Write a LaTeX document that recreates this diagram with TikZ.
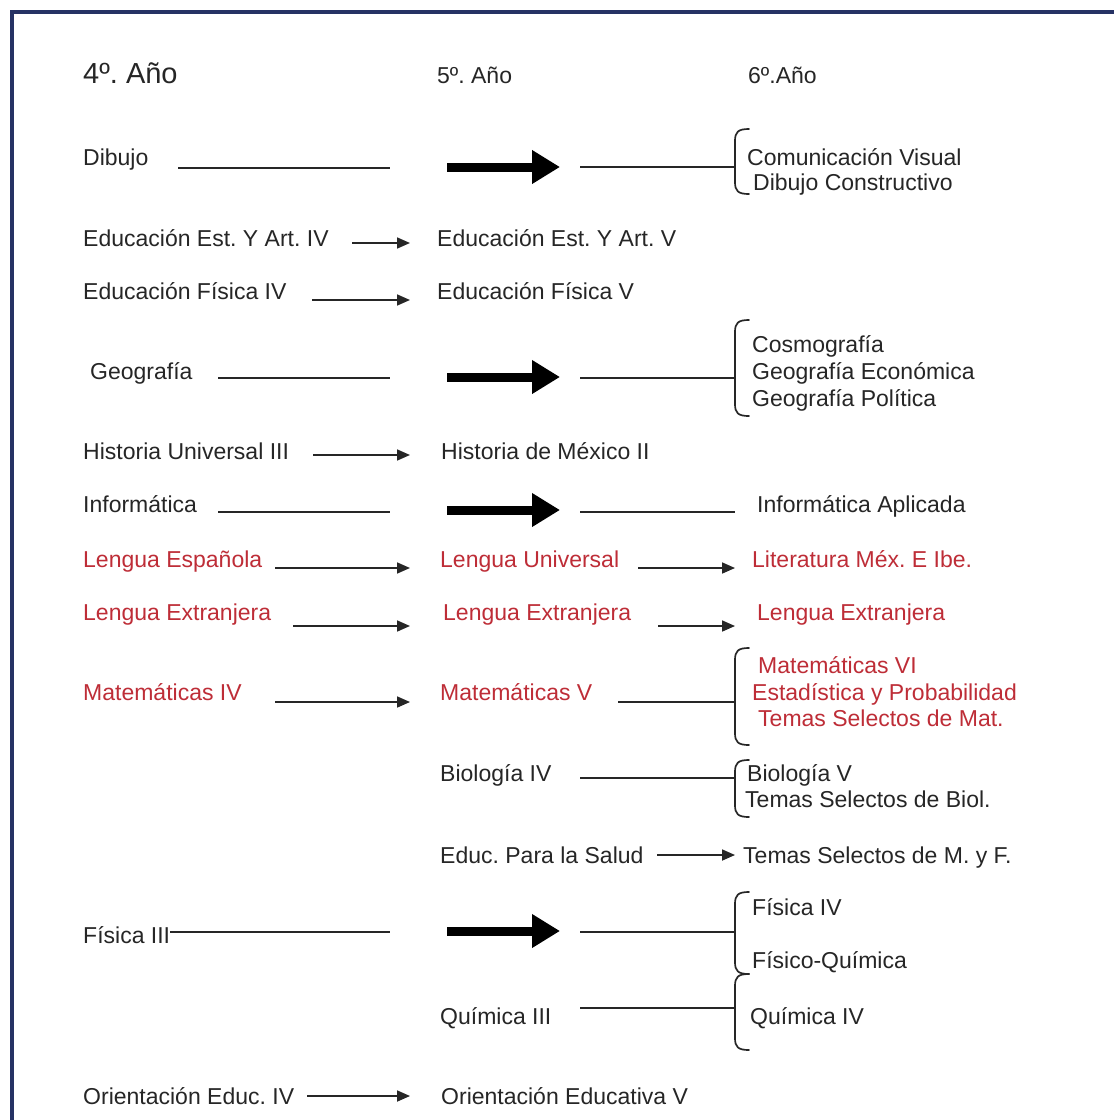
\documentclass[tikz,border=0pt]{standalone}
\usepackage{fontspec}
\setmainfont{Liberation Sans}
\usetikzlibrary{arrows.meta}
\definecolor{navyb}{RGB}{38,50,100}
\definecolor{ink}{RGB}{38,38,38}
\definecolor{redt}{RGB}{190,45,55}
\newcommand\brkt[3]{\draw[brace] ({#1+14},#2) .. controls ({#1+3},#2) and (#1,{#2+3}) .. (#1,{#2+12}) -- (#1,{#3-12}) .. controls (#1,{#3-3}) and ({#1+3},#3) .. ({#1+14},#3);}
\frenchspacing
\begin{document}
\frenchspacing
\begin{tikzpicture}[x=1pt,y=-1pt,
  lbl/.style={anchor=west,inner sep=0pt,text height=16.5pt,text depth=0pt,font=\fontsize{23}{27}\selectfont\frenchspacing,text=ink},
  redl/.style={lbl,text=redt},
  ln/.style={draw=ink,line width=1.7pt},
  arr/.style={ln,-{Triangle[length=13pt,width=11pt]}},
  big/.style={draw=black,line width=9pt,-{Triangle[length=28pt,width=32pt]}},
  brace/.style={draw=ink,line width=1.7pt,line cap=round}]
\useasboundingbox (0,0) rectangle (1114,1120);
\fill[white] (0,0) rectangle (1114,1120);
% frame
\coordinate (fa) at (12,1120);
\coordinate (fb) at (12,12);
\coordinate (fc) at (1114,12);
\draw[navyb,line width=4pt] (fa) -- (fb) -- (fc);
% headers
\node[lbl,font=\fontsize{29}{33}\selectfont\frenchspacing,text height=20.8pt] (h4) at (83,73) {4º. Año};
\node[lbl] (h5) at (437,75) {5º. Año};
\node[lbl] (h6) at (748,75) {6º.Año};
% Dibujo
\node[lbl] (dib) at (83,157) {Dibujo};
\coordinate (d1) at (178,168); \coordinate (d2) at (390,168);
\coordinate (d3) at (447,167); \coordinate (d4) at (560,167);
\coordinate (d5) at (580,167); \coordinate (d6) at (735,167);
\draw[ln] (d1) -- (d2); \draw[big] (d3) -- (d4); \draw[ln] (d5) -- (d6);
\brkt{735}{129}{194}
\node[lbl] (cv) at (747,157) {Comunicación Visual};
\node[lbl] (dc) at (753,182) {Dibujo Constructivo};
% Educacion Est
\node[lbl] (ee4) at (83,238) {Educación Est. Y Art. IV};
\node[lbl] (ee5) at (437,238) {Educación Est. Y Art. V};
\coordinate (e1) at (352,243); \coordinate (e2) at (410,243);
\draw[arr] (e1) -- (e2);
% Educacion Fisica
\node[lbl] (ef4) at (83,291) {Educación Física IV};
\node[lbl] (ef5) at (437,291) {Educación Física V};
\coordinate (f1) at (312,300); \coordinate (f2) at (410,300);
\draw[arr] (f1) -- (f2);
% Geografia
\node[lbl] (geo) at (90,371) {Geografía};
\coordinate (g1) at (218,378); \coordinate (g2) at (390,378);
\coordinate (g3) at (447,377); \coordinate (g4) at (560,377);
\coordinate (g5) at (580,378); \coordinate (g6) at (735,378);
\draw[ln] (g1) -- (g2); \draw[big] (g3) -- (g4); \draw[ln] (g5) -- (g6);
\brkt{735}{320}{416}
\node[lbl] (cos) at (752,344) {Cosmografía};
\node[lbl] (gec) at (752,371) {Geografía Económica};
\node[lbl] (gpo) at (752,398) {Geografía Política};
% Historia
\node[lbl] (hu) at (83,451) {Historia Universal III};
\node[lbl] (hm) at (441,451) {Historia de México II};
\coordinate (hi1) at (313,455); \coordinate (hi2) at (410,455);
\draw[arr] (hi1) -- (hi2);
% Informatica
\node[lbl] (inf) at (83,504) {Informática};
\coordinate (i1) at (218,512); \coordinate (i2) at (390,512);
\coordinate (i3) at (447,510); \coordinate (i4) at (560,510);
\coordinate (i5) at (580,512); \coordinate (i6) at (735,512);
\draw[ln] (i1) -- (i2); \draw[big] (i3) -- (i4); \draw[ln] (i5) -- (i6);
\node[lbl] (infa) at (757,504) {Informática Aplicada};
% Lengua Espanola
\node[redl] (les) at (83,559) {Lengua Española};
\node[redl] (lun) at (440,559) {Lengua Universal};
\node[redl] (lit) at (752,559) {Literatura Méx. E Ibe.};
\coordinate (l1) at (275,568); \coordinate (l2) at (410,568);
\coordinate (l3) at (638,568); \coordinate (l4) at (735,568);
\draw[arr] (l1) -- (l2); \draw[arr] (l3) -- (l4);
% Lengua Extranjera
\node[redl] (lx4) at (83,612) {Lengua Extranjera};
\node[redl] (lx5) at (443,612) {Lengua Extranjera};
\node[redl] (lx6) at (757,612) {Lengua Extranjera};
\coordinate (x1) at (293,626); \coordinate (x2) at (410,626);
\coordinate (x3) at (658,626); \coordinate (x4) at (735,626);
\draw[arr] (x1) -- (x2); \draw[arr] (x3) -- (x4);
% Matematicas
\node[redl] (m4) at (83,692) {Matemáticas IV};
\node[redl] (m5) at (440,692) {Matemáticas V};
\coordinate (m1) at (275,702); \coordinate (m2) at (410,702);
\coordinate (m3) at (618,702); \coordinate (m6c) at (735,702);
\draw[arr] (m1) -- (m2); \draw[ln] (m3) -- (m6c);
\brkt{735}{648}{745}
\node[redl] (m6) at (758,665) {Matemáticas VI};
\node[redl] (est) at (752,692) {Estadística y Probabilidad};
\node[redl] (tsm) at (758,718) {Temas Selectos de Mat.};
% Biologia
\node[lbl] (b4) at (440,773) {Biología IV};
\coordinate (b1) at (580,778); \coordinate (b2) at (735,778);
\draw[ln] (b1) -- (b2);
\brkt{735}{760}{817}
\node[lbl] (b5) at (747,773) {Biología V};
\node[lbl] (tsb) at (745,799) {Temas Selectos de Biol.};
% Salud
\node[lbl] (sal) at (440,855) {Educ. Para la Salud};
\node[lbl] (tsf) at (743,855) {Temas Selectos de M. y F.};
\coordinate (s1) at (657,855); \coordinate (s2) at (735,855);
\draw[arr] (s1) -- (s2);
% Fisica
\node[lbl] (f3) at (83,935) {Física III};
\coordinate (p1) at (170,932); \coordinate (p2) at (390,932);
\coordinate (p3) at (447,931); \coordinate (p4) at (560,931);
\coordinate (p5) at (580,932); \coordinate (p6) at (735,932);
\draw[ln] (p1) -- (p2); \draw[big] (p3) -- (p4); \draw[ln] (p5) -- (p6);
\brkt{735}{892}{974}
\node[lbl] (f4) at (752,907) {Física IV};
\node[lbl] (fq) at (752,960) {Físico-Química};
% Quimica
\node[lbl] (q3) at (440,1016) {Química III};
\coordinate (q1) at (580,1008); \coordinate (q2) at (735,1008);
\draw[ln] (q1) -- (q2);
\brkt{735}{974}{1050}
\node[lbl] (q4) at (750,1016) {Química IV};
% Orientacion
\node[lbl] (o4) at (83,1096) {Orientación Educ. IV};
\node[lbl] (o5) at (441,1096) {Orientación Educativa V};
\coordinate (o1) at (307,1096); \coordinate (o2) at (410,1096);
\draw[arr] (o1) -- (o2);
\end{tikzpicture}
\end{document}
